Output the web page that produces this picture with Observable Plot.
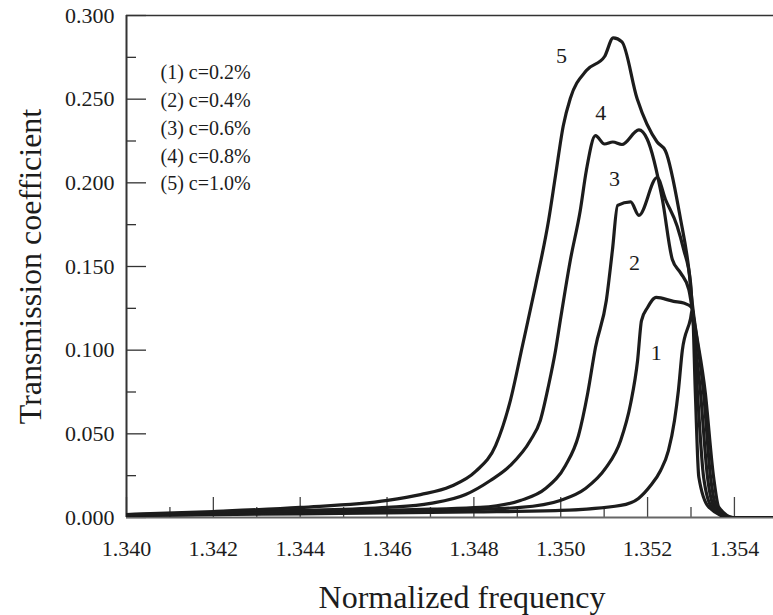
<!DOCTYPE html>
<html>
<head>
<meta charset="utf-8">
<script src="https://cdn.jsdelivr.net/npm/d3@7"></script>
<script src="https://cdn.jsdelivr.net/npm/@observablehq/plot@0.6"></script>
<style>
  html, body { margin: 0; padding: 0; background: #fff; }
  #chart svg { display: block; }
</style>
</head>
<body>
<div id="chart"></div>
<script>
// ---- data ----
const series = ["1", "2", "3", "4", "5"];
const legendLabels = ["(1) c=0.2%", "(2) c=0.4%", "(3) c=0.6%", "(4) c=0.8%", "(5) c=1.0%"];

const x1 = [1.3400,1.3420,1.3440,1.3460,1.3480,1.34999,1.35138,1.35179,1.35207,1.35230,1.35248,1.35262,1.35271,1.35280,1.35299,1.35303,1.35310,1.35318,1.35341,1.35390,1.355];
const y1 = [0.0012,0.0017,0.0022,0.0027,0.0033,0.0042,0.0072,0.0114,0.0191,0.0281,0.0400,0.0580,0.0759,0.0998,0.1189,0.1242,0.0744,0.0242,0.0062,0,0];

const x2 = [1.3400,1.3420,1.3440,1.3460,1.3480,1.34907,1.34999,1.35057,1.35103,1.35138,1.35161,1.35177,1.35186,1.35200,1.35220,1.35260,1.35283,1.35303,1.35315,1.35329,1.35348,1.35392,1.355];
const y2 = [0.0013,0.0020,0.0028,0.0036,0.0048,0.0060,0.0102,0.0173,0.0293,0.0460,0.0681,0.0938,0.1177,0.1255,0.1315,0.1292,0.1282,0.1252,0.0744,0.0242,0.0062,0,0];

const x3 = [1.3400,1.3420,1.3440,1.3460,1.3470,1.34815,1.34907,1.34965,1.35011,1.35041,1.35062,1.35080,1.35105,1.35119,1.35131,1.35161,1.35180,1.35222,1.35241,1.35268,1.35283,1.35299,1.35303,1.35322,1.35338,1.35354,1.35394,1.355];
const y3 = [0.0014,0.0024,0.0032,0.0042,0.0050,0.0060,0.0102,0.0173,0.0311,0.0490,0.0741,0.1016,0.1297,0.1596,0.1865,0.1886,0.1806,0.2032,0.1902,0.1742,0.1602,0.1402,0.1242,0.0744,0.0242,0.0062,0,0];

const x4 = [1.3400,1.3420,1.3440,1.34601,1.34700,1.34781,1.34838,1.34884,1.34930,1.34953,1.34972,1.34988,1.34999,1.35022,1.35045,1.35059,1.35080,1.35101,1.35120,1.35141,1.35180,1.35199,1.35234,1.35257,1.35276,1.35295,1.35303,1.35329,1.35345,1.35359,1.35396,1.355];
const y4 = [0.0016,0.0030,0.0042,0.0060,0.0084,0.0137,0.0221,0.0311,0.0460,0.0580,0.0789,0.0998,0.1177,0.1536,0.1835,0.2074,0.2282,0.2232,0.2244,0.2229,0.2316,0.2262,0.1902,0.1542,0.1462,0.1362,0.1242,0.0744,0.0242,0.0062,0,0];

const x5 = [1.3400,1.3420,1.3440,1.34601,1.34677,1.34746,1.34804,1.34850,1.34884,1.34912,1.34942,1.34972,1.34988,1.35006,1.35022,1.35059,1.35101,1.35121,1.35141,1.35176,1.35222,1.35241,1.35276,1.35295,1.35303,1.35333,1.35352,1.35364,1.35398,1.355];
const y5 = [0.0018,0.0036,0.0060,0.0102,0.0137,0.0185,0.0275,0.0430,0.0699,0.1028,0.1386,0.1775,0.2044,0.2343,0.2504,0.2671,0.2755,0.2866,0.2842,0.2502,0.2244,0.2192,0.1782,0.1482,0.1280,0.0744,0.0242,0.0062,0,0];

// curve number labels (anchor positions in data units)
const labelText = ["5", "4", "3", "2", "1"];
const labelX = [1.35002, 1.35092, 1.35124, 1.35170, 1.35220];
const labelY = [0.276, 0.242, 0.2026, 0.1524, 0.0986];

// axis ticks
const xMajor = [1.340, 1.342, 1.344, 1.346, 1.348, 1.350, 1.352, 1.354];
const xMinor = [1.341, 1.343, 1.345, 1.347, 1.349, 1.351, 1.353];
const yMajor = [0.000, 0.050, 0.100, 0.150, 0.200, 0.250, 0.300];
const yMinor = [0.025, 0.075, 0.125, 0.175, 0.225, 0.275];
const xDomain = [1.340, 1.3549];
const yDomain = [0, 0.3];

const xTitle = "Normalized frequency";
const yTitle = "Transmission coefficient";

// ---- build table ----
const xs = [x1, x2, x3, x4, x5], ys = [y1, y2, y3, y4, y5];
const rows = [];
series.forEach((s, i) => xs[i].forEach((x, j) => rows.push({series: s, x, y: ys[i][j]})));
const labels = labelText.map((t, i) => ({t, x: labelX[i], y: labelY[i]}));

const font = "'Liberation Serif', 'Times New Roman', serif";
const ink = "#1c1c1c";

const chart = Plot.plot({
  width: 773,
  height: 615,
  marginLeft: 126,
  marginRight: 0,
  marginTop: 15,
  marginBottom: 98,
  style: {fontFamily: font, background: "#fff", color: ink},
  x: {domain: xDomain},
  y: {domain: yDomain},
  marks: [
    // inward ticks (ticks only)
    Plot.axisX(xMajor, {anchor: "bottom", tickSize: -20, tickFormat: () => "", label: null, stroke: "#444", strokeWidth: 1.3}),
    Plot.axisX(xMinor, {anchor: "bottom", tickSize: -10, tickFormat: () => "", label: null, stroke: "#444", strokeWidth: 1.3}),
    Plot.axisY(yMajor, {anchor: "left", tickSize: -20, tickFormat: () => "", label: null, stroke: "#333", strokeWidth: 1.3}),
    Plot.axisY(yMinor, {anchor: "left", tickSize: -10, tickFormat: () => "", label: null, stroke: "#333", strokeWidth: 1.3}),
    // tick labels
    Plot.text(xMajor, {x: d => d, frameAnchor: "bottom", dy: 31, lineAnchor: "middle", text: d => d3.format(".3f")(d), fontSize: 22, fill: ink}),
    Plot.text(yMajor, {y: d => d, frameAnchor: "left", dx: -12, textAnchor: "end", lineAnchor: "middle", text: d => d3.format(".3f")(d), fontSize: 22, fill: ink}),
    // frame lines
    Plot.ruleY([yDomain[1]], {stroke: "#333", strokeWidth: 1.5}),
    Plot.ruleX([xDomain[0]], {stroke: "#333", strokeWidth: 2}),
    Plot.ruleY([yDomain[0]], {stroke: "#666", strokeWidth: 2}),
    // curves
    Plot.line(rows, {x: "x", y: "y", z: "series", curve: "monotone-x", stroke: ink, strokeWidth: 3.2, strokeLinejoin: "round", clip: true}),
    // curve labels
    Plot.text(labels, {x: "x", y: "y", text: "t", fontSize: 22, fill: ink}),
    // legend
    Plot.text([legendLabels.join("\n")], {frameAnchor: "top-left", dx: 34, dy: 44, lineAnchor: "top", lineHeight: 1.39, textAnchor: "start", fontSize: 20, fill: ink}),
    // axis titles
    Plot.text([xTitle], {frameAnchor: "bottom", dx: 12, dy: 80, lineAnchor: "middle", textAnchor: "middle", fontSize: 32, fill: ink}),
    Plot.text([yTitle], {frameAnchor: "left", dx: -96, rotate: -90, lineAnchor: "middle", textAnchor: "middle", fontSize: 32, fill: ink})
  ]
});
document.getElementById("chart").appendChild(chart);
</script>
</body>
</html>
